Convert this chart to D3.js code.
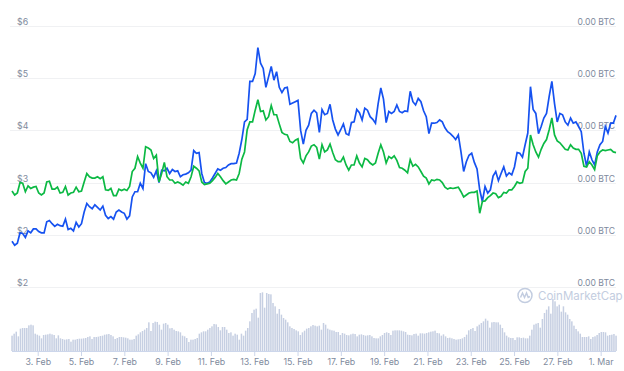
<!DOCTYPE html>
<html>
<head>
<meta charset="utf-8">
<script src="https://cdn.jsdelivr.net/npm/d3@7"></script>
<style>
	html, body { margin: 0; padding: 0; background: #fff; }
	text { font-family: Inter, "Open Sans", sans-serif; }
</style>
</head>
<body>
<div id="chart"></div>
<script>
const width = 624, height = 371;

// usd price, one reading about every 3 hours
const usdPrice = [
	2.30,2.24,2.27,2.43,2.42,2.36,2.46,2.43,2.49,2.49,2.45,2.43,2.43,2.60,2.62,2.57,2.53,2.56,2.54,2.53,
	2.64,2.48,2.50,2.46,2.59,2.52,2.57,2.75,2.88,2.83,2.80,2.86,2.82,2.78,2.84,2.70,2.65,2.68,2.64,2.75,
	2.78,2.75,2.73,2.64,2.69,2.98,3.06,3.06,3.19,3.11,3.49,3.37,3.35,3.28,3.38,3.20,3.39,3.38,3.42,3.34,
	3.40,3.37,3.38,3.29,3.32,3.33,3.35,3.39,3.69,3.65,3.66,3.34,3.20,3.19,3.21,
	3.27,3.34,3.41,3.39,3.42,3.43,3.47,3.49,3.49,3.50,3.65,3.86,4.13,4.17,4.75,4.75,4.87,5.27,5.03,4.95,
	4.66,4.82,4.98,4.77,4.90,4.66,4.58,4.65,4.66,4.40,4.42,4.44,4.46,4.00,3.79,4.00,4.08,4.26,4.31,4.27,
	3.97,4.32,4.24,4.26,4.40,4.16,4.02,3.93,4.01,4.10,3.95,3.93,4.12,4.13,4.32,4.27,4.16,4.34,4.31,4.21,
	4.17,4.11,4.41,4.65,4.48,4.12,4.29,4.26,4.29,4.39,4.29,4.27,4.30,4.29,4.60,4.44,4.39,4.49,4.44,
	4.30,4.21,3.95,4.11,4.11,4.12,4.16,4.13,4.04,3.98,3.95,3.91,3.86,3.93,3.67,3.37,3.52,3.62,3.65,3.51,
	3.41,3.09,2.91,3.14,3.04,3.09,3.30,3.37,3.23,3.34,3.44,3.30,3.35,3.32,3.44,3.66,3.65,3.59,3.78,3.96,
	4.67,4.32,4.26,3.95,4.06,4.19,4.26,4.52,4.75,4.41,4.13,4.26,4.24,4.13,4.08,4.19,4.11,4.13,4.06,3.98,
	3.65,3.45,3.67,3.55,3.47,3.67,3.78,3.83,4.06,3.96,4.11,4.11,4.23
];

// btc price, drawn against the same left axis
const btcPrice = [
	3.07,3.01,3.04,3.20,3.19,3.06,3.15,3.11,3.13,3.14,3.04,3.01,3.04,3.21,3.22,3.10,3.10,3.13,3.04,3.05,
	3.14,3.01,3.04,3.05,3.13,3.06,3.07,3.21,3.34,3.29,3.27,3.27,3.29,3.26,3.29,3.09,3.08,3.11,3.00,3.00,
	3.10,3.08,3.10,3.08,3.14,3.37,3.42,3.60,3.50,3.42,3.75,3.73,3.70,3.57,3.62,3.21,3.34,3.51,3.29,3.24,
	3.24,3.19,3.21,3.19,3.16,3.21,3.19,3.29,3.45,3.42,3.38,3.21,3.17,3.18,3.19,
	3.23,3.28,3.34,3.29,3.23,3.18,3.21,3.24,3.25,3.24,3.34,3.56,3.67,4.01,4.13,4.13,4.31,4.47,4.29,4.30,
	4.16,4.21,4.38,4.24,4.24,4.10,3.97,3.94,3.93,3.83,3.81,3.85,3.87,3.57,3.50,3.61,3.67,3.76,3.78,3.74,
	3.56,3.78,3.67,3.70,3.79,3.66,3.55,3.52,3.52,3.59,3.47,3.39,3.47,3.47,3.61,3.50,3.44,3.57,3.55,3.50,
	3.47,3.50,3.65,3.78,3.67,3.50,3.60,3.57,3.61,3.54,3.43,3.42,3.39,3.35,3.55,3.45,3.48,3.44,3.37,
	3.30,3.27,3.18,3.24,3.23,3.25,3.24,3.20,3.13,3.10,3.12,3.11,3.12,3.13,3.06,2.98,3.01,3.04,3.05,3.05,
	3.07,2.73,2.91,2.92,2.97,3.00,3.04,3.03,2.97,2.99,3.05,3.04,3.09,3.09,3.14,3.21,3.19,3.20,3.37,3.42,
	3.93,3.78,3.67,3.59,3.71,3.80,3.86,4.01,4.19,3.93,3.84,3.81,3.76,3.71,3.70,3.78,3.73,3.71,3.71,3.65,
	3.45,3.44,3.52,3.47,3.40,3.61,3.67,3.70,3.69,3.70,3.71,3.67,3.66
];

// volume bars, relative units
const volume = [
	46,52,58,44,67,69,69,69,77,79,77,52,49,46,38,48,49,50,52,50,48,38,47,38,36,34,35,36,28,34,34,36,37,37,38,39,42,44,36,42,
	42,43,45,46,49,50,51,48,44,36,39,42,42,41,40,38,34,34,36,46,50,56,60,64,69,86,60,84,88,87,79,64,82,84,79,68,69,64,60,59,
	56,46,44,39,27,34,34,36,39,52,56,59,59,64,69,74,
	81,80,72,62,72,72,64,54,56,46,52,49,34,52,46,61,69,89,114,124,127,100,174,176,130,174,171,170,144,134,112,126,109,99,94,86,
	74,69,66,62,59,48,56,61,67,69,74,78,76,74,76,64,84,79,67,64,62,61,57,57,48,54,52,48,47,50,52,51,44,49,50,48,46,47,48,44,
	39,38,38,44,48,54,56,54,48,61,62,62,62,61,59,57,49,48,47,51,52,46,53,53,52,
	54,56,58,59,61,54,53,46,50,44,39,40,38,36,34,35,36,38,42,49,62,66,69,60,74,79,84,89,97,91,70,86,87,86,86,79,69,56,46,41,
	39,39,33,41,41,39,40,38,38,46,64,79,82,84,70,96,114,124,134,112,156,149,134,139,118,134,116,109,96,89,76,66,59,52,42,42,
	42,44,36,42,44,48,54,57,57,56,46,48,49,51,46
];

const priceTicks = [5.6, 4.8, 4.0, 3.2, 2.4, 1.6];
const btcLabels = ["0.00 BTC", "0.00 BTC", "0.00 BTC", "0.00 BTC", "0.00 BTC", "0.00 BTC"];
const dateTicks = ["2021-02-03", "2021-02-05", "2021-02-07", "2021-02-09", "2021-02-11", "2021-02-13", "2021-02-15",
	"2021-02-17", "2021-02-19", "2021-02-21", "2021-02-23", "2021-02-25", "2021-02-27", "2021-03-01"];

const startTime = new Date(Date.UTC(2021, 1, 1, 19, 30));
const endTime = new Date(Date.UTC(2021, 2, 1, 17, 0));

const x = d3.scaleUtc().domain([startTime, endTime]).range([12, 616]);
const y = d3.scaleLinear().domain([1.6, 5.6]).range([287, 26]);
const yVol = d3.scaleLinear().domain([0, 180]).range([351, 291]);

// evenly spaced samples across the time range
const timeAt = (i, n) => new Date(+startTime + (endTime - startTime) * i / (n - 1));

const svg = d3.select("#chart").append("svg")
	.attr("width", width)
	.attr("height", height)
	.style("display", "block");

// grid and price labels
const grid = svg.append("g");
grid.selectAll("line")
	.data(priceTicks)
	.join("line")
	.attr("x1", 10)
	.attr("x2", 616)
	.attr("y1", d => Math.round(y(d)) + 0.5)
	.attr("y2", d => Math.round(y(d)) + 0.5)
	.attr("stroke", "#f0f1f3");

grid.selectAll("text.left")
	.data(priceTicks)
	.join("text")
	.attr("class", "left")
	.attr("x", 17)
	.attr("y", d => y(d) - 1)
	.attr("font-size", 8.8)
	.attr("fill", "#808a9d")
	.text(d3.format("$.0f"));

grid.selectAll("text.right")
	.data(priceTicks)
	.join("text")
	.attr("class", "right")
	.attr("x", 615)
	.attr("y", d => y(d) - 1)
	.attr("font-size", 8.6)
	.attr("text-anchor", "end")
	.attr("fill", "#808a9d")
	.text((d, i) => btcLabels[i]);

// watermark
const mark = svg.append("g").attr("transform", "translate(525,295.5)");
mark.append("circle")
	.attr("r", 7)
	.attr("fill", "none")
	.attr("stroke", "#c3cde0")
	.attr("stroke-width", 1.5);
mark.append("path")
	.attr("d", "M-4.5,2 L-2.5,-2.5 L-0.5,2 L1.5,-2.5 L3.2,2 L5,1")
	.attr("fill", "none")
	.attr("stroke", "#c3cde0")
	.attr("stroke-width", 1.5);
svg.append("text")
	.attr("x", 538)
	.attr("y", 300)
	.attr("font-size", 11.5)
	.attr("fill", "#c3cde0")
	.text("CoinMarketCap");

// volume
svg.append("g")
	.selectAll("rect")
	.data(volume)
	.join("rect")
	.attr("x", (d, i) => x(timeAt(i, volume.length)) - 0.7)
	.attr("y", d => yVol(d))
	.attr("width", 1.5)
	.attr("height", d => yVol(0) - yVol(d))
	.attr("fill", "#c6cfe2");

// x axis
const xAxis = svg.append("g")
	.attr("transform", "translate(0,351)")
	.call(d3.axisBottom(x)
		.tickValues(dateTicks.map(d => new Date(d + "T00:00:00Z")))
		.tickFormat(d3.utcFormat("%-d. %b"))
		.tickSize(5)
		.tickPadding(3));
xAxis.select(".domain").attr("d", "M12,0.5H616").attr("stroke", "#ccd6eb");
xAxis.selectAll(".tick line").attr("stroke", "#ccd6eb");
xAxis.selectAll(".tick text")
	.attr("font-family", "Inter, sans-serif")
	.attr("font-size", 8.8)
	.attr("fill", "#808a9d");

// price lines
const line = n => d3.line()
	.x((d, i) => x(timeAt(i, n)))
	.y(d => y(d));

svg.append("path")
	.datum(usdPrice)
	.attr("d", line(usdPrice.length))
	.attr("fill", "none")
	.attr("stroke", "#1652f0")
	.attr("stroke-width", 1.7);

svg.append("path")
	.datum(btcPrice)
	.attr("d", line(btcPrice.length))
	.attr("fill", "none")
	.attr("stroke", "#0cb944")
	.attr("stroke-width", 1.7);
</script>
</body>
</html>
